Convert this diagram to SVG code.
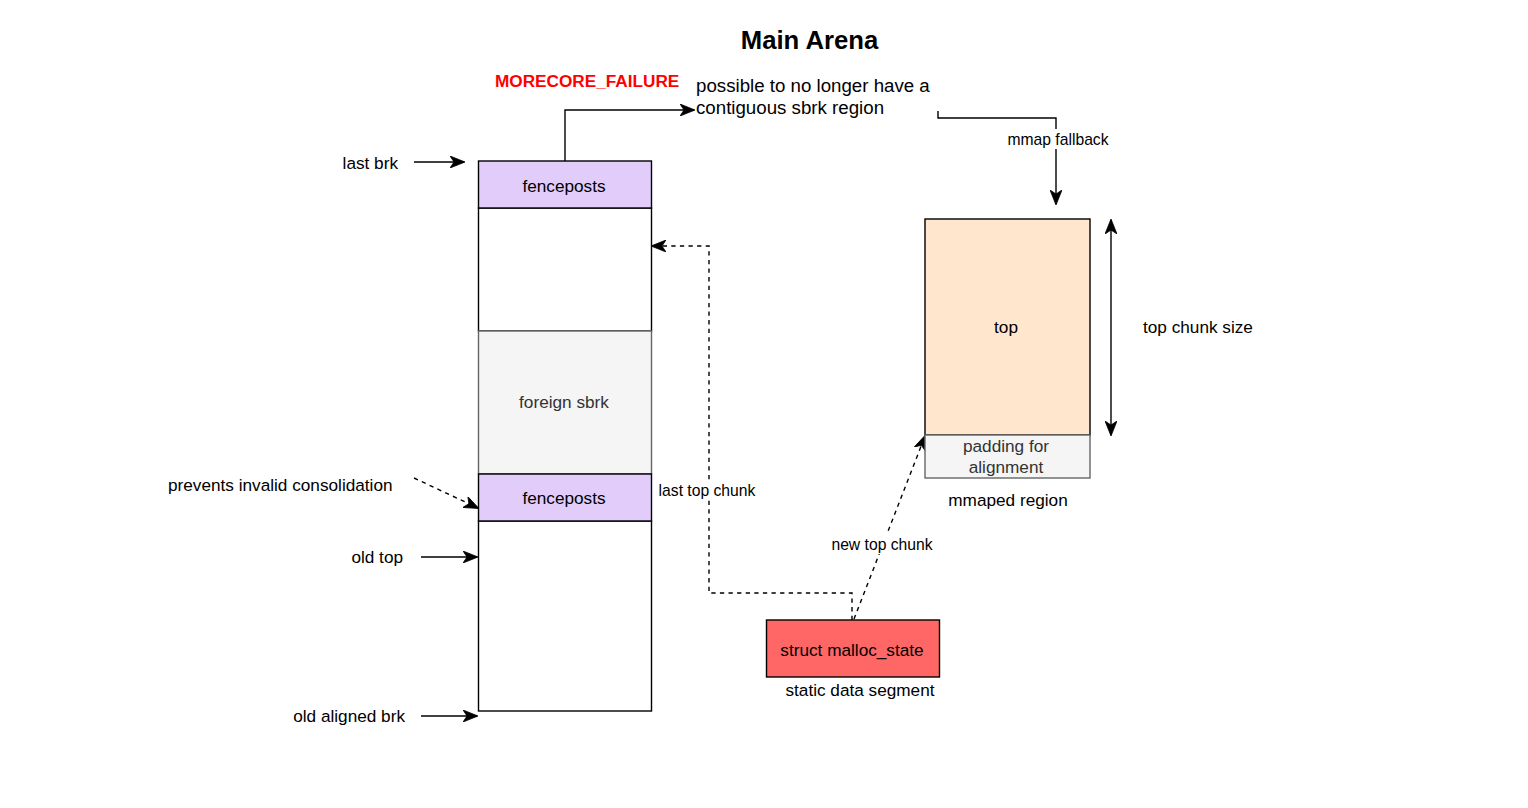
<svg xmlns="http://www.w3.org/2000/svg" width="1528" height="808" viewBox="0 0 1528 808">
<style>
text{font-family:"Liberation Sans",Arial,sans-serif;fill:#000;dominant-baseline:central}
.n{font-size:17.2px;text-anchor:middle}
.l{font-size:15.7px}
.m{font-size:17.2px}
.c{text-anchor:middle}
.e{text-anchor:end}
.box{stroke:#000;stroke-width:1.4}
.grey{fill:#f5f5f5;stroke:#666;stroke-width:1.4}
.ln{fill:none;stroke:#000;stroke-width:1.4}
.dash{stroke-dasharray:4.3 4.3}
</style>
<defs>
<marker id="a" viewBox="0 0 15 12" refX="14" refY="6" markerWidth="15" markerHeight="12" markerUnits="userSpaceOnUse" orient="auto">
<path d="M0,0 L15,6 L0,12 L4,6 z" fill="#000" stroke="#000" stroke-width="0.8"/>
</marker>
<marker id="as" viewBox="0 0 15 12" refX="1" refY="6" markerWidth="15" markerHeight="12" markerUnits="userSpaceOnUse" orient="auto">
<path d="M15,0 L0,6 L15,12 L11,6 z" fill="#000" stroke="#000" stroke-width="0.8"/>
</marker>
</defs>
<rect width="1528" height="808" fill="#fff"/>
<text x="809.5" y="40" class="c" style="font-size:25.7px;font-weight:bold">Main Arena</text>

<g id="connectors">
<path class="ln" d="M414,162 H464" marker-end="url(#a)"/>
<path class="ln dash" d="M414,478 L478,508" marker-end="url(#a)"/>
<path class="ln" d="M421,557 H477" marker-end="url(#a)"/>
<path class="ln" d="M421,716 H477" marker-end="url(#a)"/>
<path class="ln" d="M565,161 V110 H694" marker-end="url(#a)"/>
<path class="ln" d="M938,111 V118 H1056 V204" marker-end="url(#a)"/>
<path class="ln dash" d="M852,620 V593 H709 V246 H652" marker-end="url(#a)"/>
<path class="ln dash" d="M854,619 L925,436" marker-end="url(#a)"/>
<path class="ln" d="M1111,220 V435" marker-start="url(#as)" marker-end="url(#a)"/>
<rect x="657" y="480" width="100" height="20" fill="#fff"/>
<text x="707" y="490" class="l c">last top chunk</text>
<rect x="830" y="534" width="104" height="20" fill="#fff"/>
<text x="882" y="544" class="l c">new top chunk</text>
<rect x="1005" y="129" width="106" height="20" fill="#fff"/>
<text x="1058" y="139" class="l c">mmap fallback</text>
</g>

<g id="labels">
<text x="398" y="163" class="m e">last brk</text>
<text x="168" y="485" class="m">prevents invalid consolidation</text>
<text x="403" y="557" class="m e">old top</text>
<text x="405" y="716" class="m e">old aligned brk</text>
<text x="495" y="81" style="font-size:17.2px;font-weight:bold;fill:#ff0000">MORECORE_FAILURE</text>
<text x="696" y="85" style="font-size:18.7px">possible to no longer have a</text>
<text x="696" y="107" style="font-size:18.7px">contiguous sbrk region</text>
<text x="1143" y="327" class="m">top chunk size</text>
</g>

<g id="region-upper">
<rect x="478.5" y="208" width="173" height="123" fill="#fff" class="box"/>
</g>
<g id="foreign-sbrk">
<rect x="478.5" y="331" width="173" height="143" class="grey"/>
<text x="564" y="402" class="n" style="fill:#333">foreign sbrk</text>
</g>
<g id="region-lower">
<rect x="478.5" y="521" width="173" height="190" fill="#fff" class="box"/>
</g>
<g id="fenceposts-top">
<rect x="478.5" y="161" width="173" height="47" fill="#e1ccfa" class="box"/>
<text x="564" y="186" class="n">fenceposts</text>
</g>
<g id="fenceposts-bottom">
<rect x="478.5" y="474" width="173" height="47" fill="#e1ccfa" class="box"/>
<text x="564" y="498" class="n">fenceposts</text>
</g>

<g id="top">
<rect x="925" y="219" width="165" height="216" fill="#ffe6cc" class="box"/>
<text x="1006" y="327" class="n">top</text>
</g>
<g id="padding">
<rect x="925" y="435" width="165" height="43" class="grey"/>
<text x="1006" y="446" class="n" style="fill:#333">padding for</text>
<text x="1006" y="467" class="n" style="fill:#333">alignment</text>
</g>
<g id="mmaped-region">
<text x="1008" y="500" class="n">mmaped region</text>
</g>

<g id="malloc-state">
<rect x="766.5" y="620" width="173" height="57" fill="#ff6666" class="box"/>
<text x="852" y="650" class="n">struct malloc_state</text>
</g>
<g id="static-data">
<text x="860" y="690" class="n">static data segment</text>
</g>
</svg>
